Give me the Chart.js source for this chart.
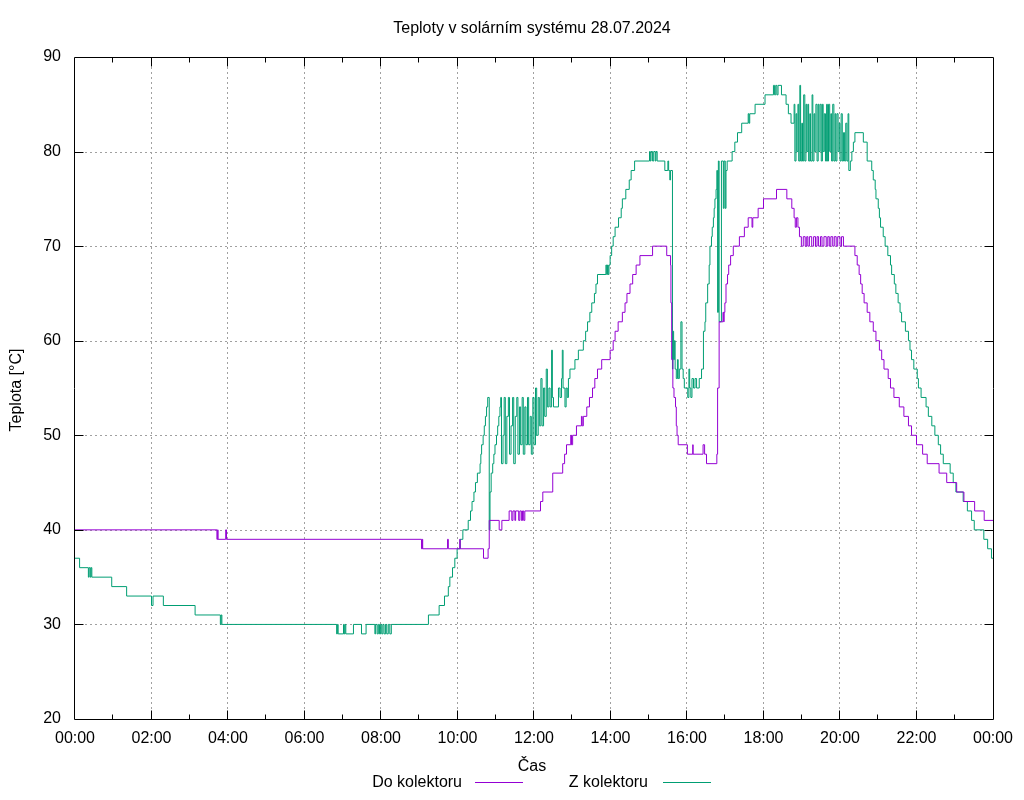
<!DOCTYPE html>
<html>
<head>
<meta charset="utf-8">
<script src="https://cdn.jsdelivr.net/npm/chart.js@4/dist/chart.umd.min.js"></script>
<style>
  html, body { margin: 0; padding: 0; background: #fff; }
  #wrap { width: 1024px; height: 800px; }
</style>
</head>
<body>
<div id="wrap"><canvas id="chart" width="1024" height="800"></canvas></div>
<script>
// --- Data (time in hours, temperature in °C) ---
const chartTitle = 'Teploty v solárním systému 28.07.2024';
const xTitle = 'Čas';
const yTitle = 'Teplota [°C]';
const seriesNames = ['Do kolektoru', 'Z kolektoru'];
const seriesColors = ['#9400d3', '#009e73'];

const xTicks = [0, 2, 4, 6, 8, 10, 12, 14, 16, 18, 20, 22, 24];
const xTickLabels = ['00:00', '02:00', '04:00', '06:00', '08:00', '10:00', '12:00',
                     '14:00', '16:00', '18:00', '20:00', '22:00', '00:00'];
const xMinorTicks = [1, 3, 5, 7, 9, 11, 13, 15, 17, 19, 21, 23];
const yTicks = [20, 30, 40, 50, 60, 70, 80, 90];

// Do kolektoru: [time, value], each value holds until the next point
const doKolektoru = [
  [0, 40], [3.71, 39], [3.73, 40], [3.74, 39], [3.94, 40], [3.96, 39],
  [9.06, 38], [9.08, 39], [9.09, 38], [9.74, 39], [9.76, 38], [10.06, 39], [10.07, 38],
  [10.68, 37], [10.80, 38], [10.83, 41], [11.09, 40], [11.16, 41], [11.35, 42],
  [11.42, 41], [11.45, 42], [11.50, 41], [11.52, 42], [11.60, 41], [11.63, 42],
  [11.67, 41], [11.70, 42], [11.73, 41], [11.76, 42], [12.17, 43], [12.23, 44],
  [12.49, 46], [12.75, 47], [12.80, 48], [12.85, 49], [12.96, 50], [12.98, 49],
  [13.01, 50], [13.11, 51], [13.24, 52], [13.26, 51], [13.29, 52], [13.38, 53],
  [13.45, 54], [13.53, 55], [13.59, 56], [13.66, 57], [13.77, 58], [13.99, 59],
  [14.07, 60], [14.12, 61], [14.20, 62], [14.31, 63], [14.38, 64], [14.43, 65],
  [14.51, 66], [14.58, 67], [14.67, 68], [14.77, 69], [15.10, 70], [15.47, 69],
  [15.57, 68], [15.58, 64], [15.60, 58], [15.63, 55], [15.66, 54], [15.70, 53],
  [15.72, 51], [15.74, 50], [15.77, 49], [16.01, 48], [16.15, 49], [16.16, 48],
  [16.42, 49], [16.46, 48], [16.51, 47], [16.78, 48], [16.80, 55], [16.84, 62],
  [16.94, 63], [16.96, 62], [16.97, 63], [16.99, 64], [17.02, 66], [17.06, 67],
  [17.09, 68], [17.14, 69], [17.21, 70], [17.37, 71], [17.50, 72], [17.60, 73],
  [17.70, 72], [17.72, 73], [17.86, 74], [18.00, 75], [18.34, 76], [18.61, 75],
  [18.74, 74], [18.80, 73], [18.83, 72], [18.86, 73], [18.90, 72], [18.94, 71],
  [18.99, 70], [19.04, 71], [19.09, 70], [19.13, 71], [19.16, 70], [19.20, 71],
  [19.26, 70], [19.31, 71], [19.36, 70], [19.40, 71], [19.44, 70], [19.49, 71],
  [19.53, 70], [19.58, 71], [19.64, 70], [19.68, 71], [19.72, 70], [19.76, 71],
  [19.81, 70], [19.85, 71], [19.90, 70], [19.94, 71], [20.00, 70], [20.04, 71],
  [20.09, 70], [20.39, 69], [20.45, 68], [20.50, 67], [20.54, 66], [20.58, 65],
  [20.63, 64], [20.71, 63], [20.78, 62], [20.87, 61], [20.94, 60], [21.03, 59],
  [21.09, 58], [21.15, 57], [21.26, 56], [21.32, 55], [21.41, 54], [21.55, 53],
  [21.67, 52], [21.79, 51], [21.87, 50], [22.00, 49], [22.16, 48], [22.28, 47],
  [22.59, 46], [22.79, 45], [23.05, 44], [23.24, 43], [23.52, 42], [23.77, 41],
  [24, 41]
];

// Z kolektoru
const zKolektoru = [
  [0, 37], [0.12, 36], [0.35, 35], [0.37, 36], [0.40, 35], [0.42, 36], [0.44, 35],
  [0.96, 34], [1.35, 33], [2.00, 32], [2.04, 33], [2.31, 32], [3.14, 31],
  [3.80, 30], [3.82, 31], [3.84, 30],
  [6.84, 29], [6.86, 30], [6.88, 29], [7.02, 30], [7.04, 29], [7.06, 30], [7.08, 29],
  [7.28, 30], [7.49, 29], [7.61, 30], [7.84, 29], [7.86, 30], [7.90, 29], [7.93, 30],
  [7.96, 29], [7.99, 30], [8.02, 29], [8.05, 30], [8.08, 29], [8.12, 30], [8.15, 29],
  [8.19, 30], [8.23, 29], [8.27, 30],
  [9.24, 31], [9.52, 32], [9.66, 33], [9.76, 34], [9.80, 35], [9.87, 36], [9.93, 37],
  [9.99, 38], [10.07, 39], [10.14, 40], [10.28, 41], [10.34, 42], [10.38, 43],
  [10.43, 44], [10.47, 45], [10.52, 46], [10.59, 47], [10.61, 48], [10.63, 49],
  [10.67, 50], [10.70, 51], [10.73, 52], [10.76, 53], [10.79, 54], [10.83, 40],
  [10.85, 44], [10.88, 46], [10.92, 47], [10.95, 48], [10.98, 49], [11.02, 50],
  [11.05, 51], [11.08, 52], [11.11, 53], [11.13, 54], [11.15, 47], [11.19, 50],
  [11.22, 54], [11.25, 47], [11.29, 52], [11.33, 54], [11.36, 48], [11.40, 51],
  [11.44, 54], [11.47, 47], [11.51, 52], [11.55, 54], [11.58, 48], [11.62, 53],
  [11.65, 49], [11.69, 54], [11.72, 48], [11.76, 53], [11.79, 49], [11.83, 54],
  [11.86, 49], [11.90, 52], [11.93, 48], [11.97, 54], [12.00, 49], [12.04, 55],
  [12.07, 50], [12.11, 54], [12.14, 51], [12.18, 56], [12.21, 51], [12.25, 55],
  [12.28, 52], [12.32, 57], [12.35, 53], [12.39, 55], [12.42, 53], [12.46, 59],
  [12.48, 54], [12.51, 53], [12.64, 55], [12.68, 54], [12.72, 56], [12.74, 59],
  [12.76, 55], [12.81, 53], [12.84, 55], [12.87, 54], [12.90, 56], [12.94, 57],
  [13.07, 58], [13.16, 59], [13.29, 60], [13.35, 61], [13.40, 62], [13.46, 63],
  [13.51, 64], [13.58, 65], [13.62, 66], [13.66, 67], [13.88, 68], [13.90, 67],
  [13.92, 68], [13.94, 67], [13.96, 68], [13.99, 69], [14.03, 70], [14.07, 71],
  [14.12, 72], [14.21, 73], [14.28, 74], [14.31, 75], [14.40, 76], [14.49, 77],
  [14.54, 78], [14.63, 79], [15.02, 80], [15.04, 79], [15.06, 80], [15.10, 79],
  [15.13, 80], [15.17, 79], [15.19, 80], [15.22, 79], [15.42, 78], [15.50, 79],
  [15.52, 78], [15.55, 77], [15.57, 78], [15.62, 57], [15.63, 61], [15.65, 58],
  [15.67, 60], [15.69, 57], [15.72, 56], [15.75, 58], [15.77, 56], [15.80, 57],
  [15.84, 62], [15.87, 57], [15.90, 56], [15.93, 55], [16.02, 54], [16.05, 57],
  [16.07, 55], [16.10, 54], [16.13, 56], [16.17, 55], [16.21, 56], [16.25, 55],
  [16.32, 56], [16.38, 57], [16.43, 61], [16.47, 62], [16.49, 64], [16.54, 66],
  [16.58, 68], [16.60, 70], [16.64, 71], [16.66, 72], [16.69, 73], [16.71, 74],
  [16.73, 75], [16.76, 76], [16.78, 78], [16.80, 63], [16.82, 79], [16.84, 62],
  [16.90, 79], [16.95, 74], [16.97, 79], [17.00, 74], [17.02, 78], [17.05, 79],
  [17.18, 80], [17.25, 81], [17.32, 82], [17.43, 83], [17.60, 84], [17.62, 83],
  [17.64, 84], [17.78, 85], [18.04, 86], [18.26, 87], [18.29, 86], [18.32, 87],
  [18.35, 86], [18.38, 87], [18.47, 86], [18.59, 85], [18.65, 84], [18.72, 83],
  [18.80, 85], [18.82, 79], [18.85, 84], [18.87, 80], [18.90, 85], [18.92, 79],
  [18.95, 87], [18.97, 79], [19.00, 83], [19.02, 79], [19.05, 86], [19.08, 79],
  [19.11, 85], [19.13, 80], [19.16, 85], [19.18, 79], [19.21, 84], [19.23, 79],
  [19.27, 86], [19.29, 79], [19.32, 84], [19.34, 80], [19.37, 85], [19.40, 79],
  [19.43, 85], [19.45, 80], [19.48, 85], [19.51, 79], [19.54, 85], [19.56, 80],
  [19.59, 84], [19.62, 79], [19.65, 85], [19.67, 79], [19.70, 85], [19.73, 80],
  [19.76, 84], [19.78, 79], [19.81, 85], [19.84, 79], [19.87, 84], [19.89, 79],
  [19.92, 84], [19.95, 80], [19.98, 83], [20.00, 79], [20.03, 84], [20.06, 79],
  [20.09, 82], [20.12, 79], [20.15, 83], [20.18, 79], [20.21, 84], [20.23, 78],
  [20.27, 79], [20.31, 80], [20.35, 81], [20.39, 82], [20.61, 81], [20.71, 79],
  [20.83, 78], [20.87, 77], [20.92, 76], [20.94, 75], [21.00, 74], [21.03, 73],
  [21.06, 72], [21.13, 71], [21.18, 70], [21.25, 69], [21.32, 68], [21.35, 67],
  [21.42, 66], [21.46, 65], [21.52, 64], [21.57, 63], [21.61, 62], [21.71, 61],
  [21.79, 60], [21.83, 59], [21.87, 58], [21.93, 57], [22.02, 56], [22.05, 55],
  [22.12, 54], [22.25, 53], [22.31, 52], [22.40, 51], [22.48, 50], [22.57, 49],
  [22.63, 48], [22.70, 47], [22.88, 46], [22.96, 45], [23.03, 44], [23.22, 43],
  [23.33, 42], [23.44, 41], [23.51, 40], [23.76, 39], [23.86, 38], [23.96, 37],
  [24, 37]
];

const FONT = '"Liberation Sans", Arial, sans-serif';
const FONT_SIZE = 16;

// --- grid, border, ticks, titles and key drawn gnuplot-style ---
const gnuplotFrame = {
  id: 'gnuplotFrame',
  beforeDatasetsDraw(chart) {
    const { ctx, chartArea: a, scales: { x, y } } = chart;
    ctx.save();
    ctx.strokeStyle = '#a0a0a0';
    ctx.lineWidth = 1;
    ctx.setLineDash([2, 3]);
    ctx.beginPath();
    xTicks.slice(1, -1).forEach(v => {
      const px = Math.round(x.getPixelForValue(v)) - 0.5;
      ctx.moveTo(px, a.top); ctx.lineTo(px, a.bottom);
    });
    yTicks.slice(1, -1).forEach(v => {
      const py = Math.round(y.getPixelForValue(v)) + 0.5;
      ctx.moveTo(a.left, py); ctx.lineTo(a.right, py);
    });
    ctx.stroke();
    ctx.restore();
  },
  afterDatasetsDraw(chart) {
    const { ctx, chartArea: a, scales: { x, y } } = chart;
    const L = a.left - 0.5, R = a.right + 0.5, T = a.top + 0.5, B = a.bottom + 0.5;
    ctx.save();
    ctx.strokeStyle = '#000';
    ctx.lineWidth = 1;
    ctx.beginPath();
    ctx.rect(L, T, R - L, B - T);
    // inward tick marks; the end ticks sit on the border itself
    yTicks.slice(1, -1).forEach(v => {
      const py = Math.round(y.getPixelForValue(v)) + 0.5;
      ctx.moveTo(L, py); ctx.lineTo(L + 9, py);
      ctx.moveTo(R, py); ctx.lineTo(R - 9, py);
    });
    xTicks.slice(1, -1).forEach(v => {
      const px = Math.round(x.getPixelForValue(v)) - 0.5;
      ctx.moveTo(px, B); ctx.lineTo(px, B - 9);
      ctx.moveTo(px, T); ctx.lineTo(px, T + 9);
    });
    xMinorTicks.forEach(v => {
      const px = Math.round(x.getPixelForValue(v)) - 0.5;
      ctx.moveTo(px, B); ctx.lineTo(px, B - 5);
      ctx.moveTo(px, T); ctx.lineTo(px, T + 5);
    });
    ctx.stroke();
    ctx.restore();
  },
  afterDraw(chart) {
    const ctx = chart.ctx;
    ctx.save();
    ctx.fillStyle = '#000';
    ctx.font = FONT_SIZE + 'px ' + FONT;
    ctx.textBaseline = 'alphabetic';

    ctx.textAlign = 'center';
    ctx.fillText(chartTitle, 532, 33);
    ctx.fillText(xTitle, 532, 771);

    ctx.save();
    ctx.translate(21, 390);
    ctx.rotate(-Math.PI / 2);
    ctx.fillText(yTitle, 0, 0);
    ctx.restore();

    // key: text first, then a line sample
    const key = [
      { textRight: 462, x1: 475, x2: 523 },
      { textRight: 648, x1: 663, x2: 711 }
    ];
    key.forEach((k, i) => {
      ctx.textAlign = 'right';
      ctx.fillText(seriesNames[i], k.textRight, 787);
      ctx.strokeStyle = seriesColors[i];
      ctx.lineWidth = 1;
      ctx.beginPath();
      ctx.moveTo(k.x1, 782.5); ctx.lineTo(k.x2, 782.5);
      ctx.stroke();
    });
    ctx.restore();
  }
};

Chart.defaults.color = '#000';
Chart.defaults.font.family = FONT;
Chart.defaults.font.size = FONT_SIZE;

const toPoints = rows => rows.map(r => ({ x: r[0], y: r[1] }));

new Chart(document.getElementById('chart'), {
  type: 'line',
  data: {
    datasets: [
      {
        label: seriesNames[0],
        data: toPoints(doKolektoru),
        borderColor: seriesColors[0],
        borderWidth: 1,
        stepped: true,
        pointRadius: 0,
        fill: false
      },
      {
        label: seriesNames[1],
        data: toPoints(zKolektoru),
        borderColor: seriesColors[1],
        borderWidth: 1,
        stepped: true,
        pointRadius: 0,
        fill: false
      }
    ]
  },
  options: {
    responsive: false,
    animation: false,
    devicePixelRatio: 1,
    layout: { padding: { top: 57, right: 31, bottom: 0, left: 0 } },
    plugins: {
      legend: { display: false },
      title: { display: false },
      tooltip: { enabled: false }
    },
    scales: {
      x: {
        type: 'linear',
        min: 0,
        max: 24,
        grid: { display: false, drawTicks: false },
        border: { display: false },
        afterFit(s) { s.height = 81; },
        afterBuildTicks(s) { s.ticks = xTicks.map(v => ({ value: v })); },
        ticks: {
          autoSkip: false,
          maxRotation: 0,
          padding: 10,
          callback: (v, i) => xTickLabels[i]
        }
      },
      y: {
        type: 'linear',
        min: 20,
        max: 90,
        grid: { display: false, drawTicks: false },
        border: { display: false },
        afterFit(s) { s.width = 75; },
        afterBuildTicks(s) { s.ticks = yTicks.map(v => ({ value: v })); },
        ticks: { padding: 14 }
      }
    }
  },
  plugins: [gnuplotFrame]
});
</script>
</body>
</html>
